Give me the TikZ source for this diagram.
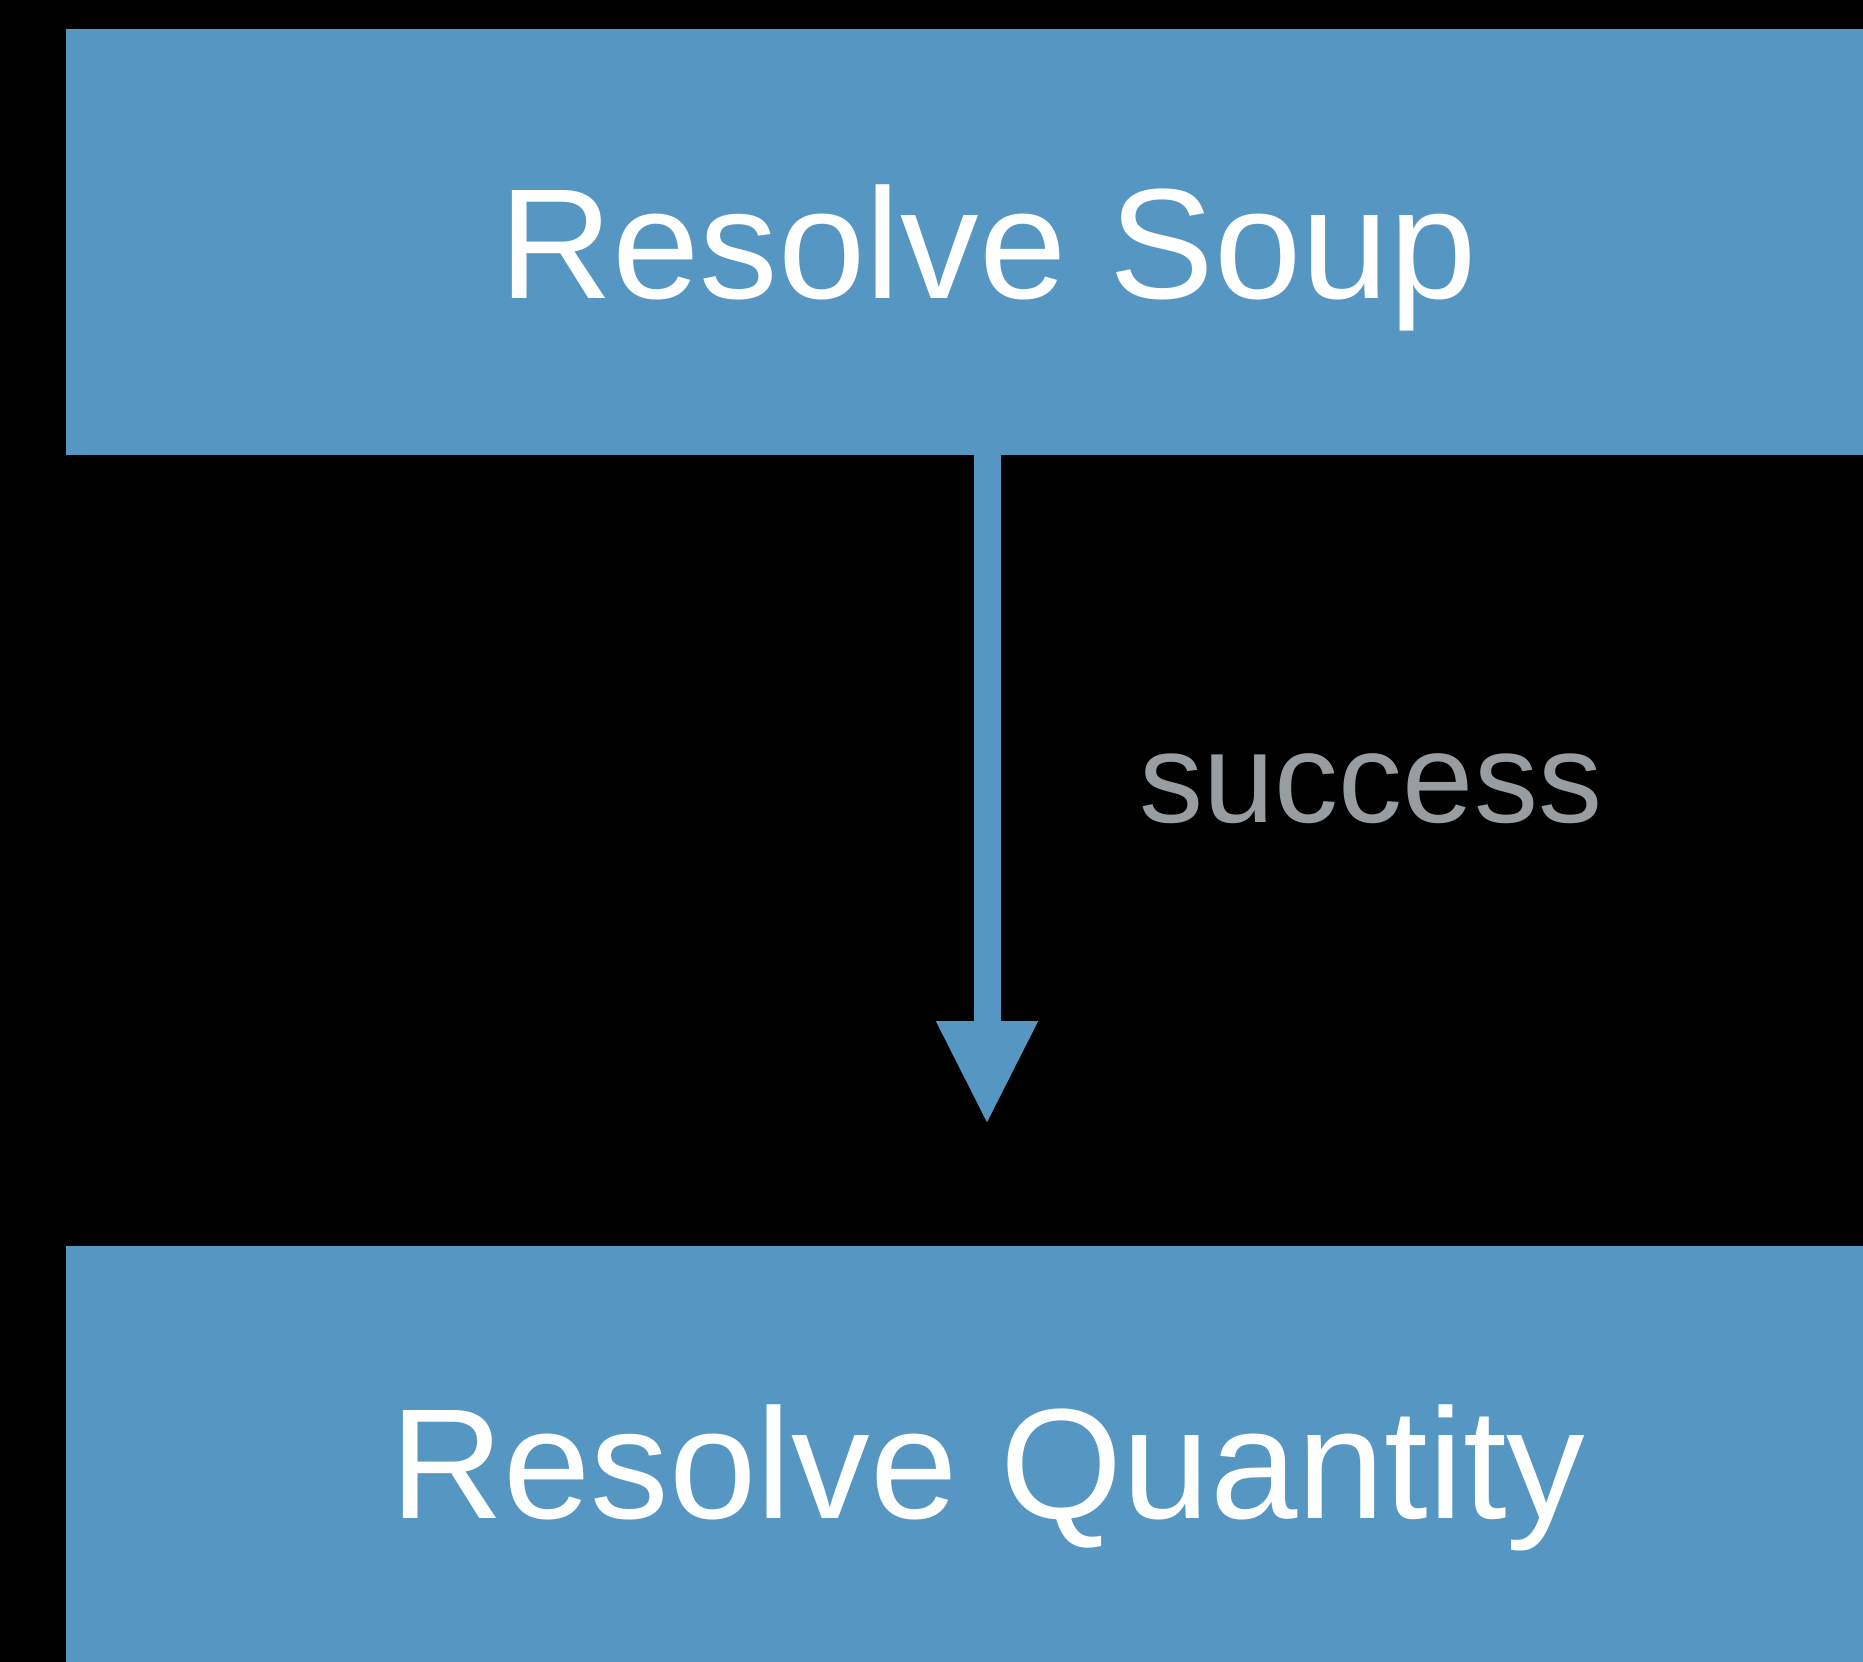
\documentclass[tikz,border=0pt]{standalone}
\usepackage{fontspec}
\setmainfont{Liberation Sans}
\usetikzlibrary{arrows.meta}
\definecolor{boxblue}{RGB}{85,151,194}
\definecolor{labelgray}{RGB}{152,157,161}
\tikzset{
  stepbox/.style={fill=boxblue, draw=none, minimum width=1844pt, inner sep=0pt,
    text=white, font=\fontsize{157}{160}\selectfont, text height=112.5pt, text depth=0pt},
  flowarrow/.style={draw=boxblue, line width=27pt,
    -{Triangle[width=94pt,length=104pt]}},
  edgelabel/.style={text=labelgray, font=\fontsize{128}{130}\selectfont, inner sep=0pt}
}
\begin{document}
\begin{tikzpicture}[x=1pt,y=-1pt]
\fill[black] (0,0) rectangle (1863,1662);
\useasboundingbox (0,0) rectangle (1863,1662);
\clip (0,0) rectangle (1863,1662);
\node[stepbox, minimum height=426pt] (soup) at (988,242) {Resolve Soup};
\node[stepbox, minimum height=432pt] (qty) at (988,1462) {Resolve Quantity};
\coordinate (tip) at (987,1125);
\draw[flowarrow] (soup.south -| tip) -- (tip);
\node[edgelabel, anchor=base] (succ) at (1371,822) {success};
\end{tikzpicture}
\end{document}
